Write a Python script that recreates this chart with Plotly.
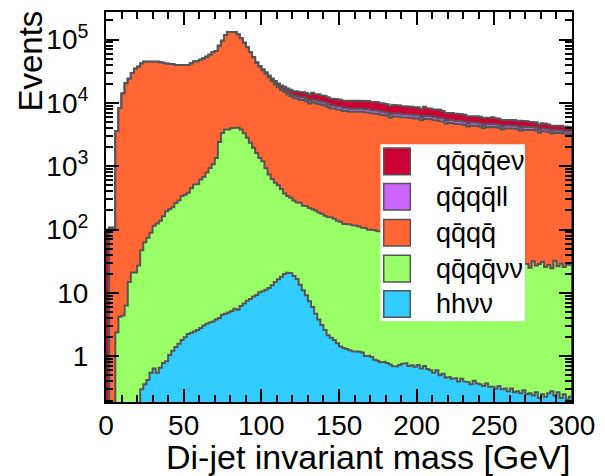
import numpy as np
import plotly.graph_objects as go

# ---------------- data (events per 2 GeV bin, 0-300 GeV) ----------------
bin_width = 2.0
mass_edges = np.arange(0, 300 + bin_width, bin_width)  # 151 edges -> 150 bins

hhvv = [0] * 11 + [
    0.3, 0.36, 0.42, 0.55, 0.64, 0.55, 0.66, 0.78, 0.83, 1.05,
    1.22, 1.4, 1.58, 1.8, 2.0, 2.25, 2.35, 2.45, 2.6, 2.8,
    3.05, 3.25, 3.4, 3.55, 3.8, 4.0, 4.5, 4.7, 4.9, 5.2,
    5.6, 5.4, 6.2, 6.8, 7.5, 8.0, 8.8, 9.3, 10.2, 10.6,
    11.2, 12.0, 13.2, 14.8, 16.4, 18.0, 19.8, 21.0, 20.5, 18.5,
    16.5, 13.5, 11.0, 9.2, 7.4, 6.0, 4.7, 3.8, 3.1, 2.6,
    2.15, 1.95, 1.8, 1.6, 1.42, 1.35, 1.3, 1.24, 1.2, 1.17,
    1.18, 1.15, 1.0, 1.02, 0.97, 0.88, 0.85, 0.8, 0.82, 0.78,
    0.74, 0.7, 0.69, 0.73, 0.76, 0.78, 0.7, 0.72, 0.68, 0.73,
    0.64, 0.7, 0.63, 0.6, 0.55, 0.6, 0.5, 0.53, 0.46, 0.47,
    0.44, 0.45, 0.4, 0.44, 0.4, 0.39, 0.36, 0.41, 0.37, 0.36,
    0.34, 0.37, 0.33, 0.33, 0.31, 0.34, 0.3, 0.31, 0.28, 0.31,
    0.27, 0.28, 0.26, 0.29, 0.25, 0.26, 0.24, 0.27, 0.22, 0.25,
    0.23, 0.26, 0.28, 0.24, 0.27, 0.22, 0.25, 0.21, 0.23,
]

qqqqvv = [0] * 3 + [
    2.4, 4.2, 4.4, 6.3, 14.8, 21, 21, 27,
    46.7, 62.6, 73.6, 88.5, 114, 124, 137, 161, 194, 208,
    223, 262, 286, 337, 353, 378, 445, 511, 522, 614,
    673, 791, 930, 1066, 1346, 2400, 3350, 3795, 3795, 3975,
    4064, 4065, 3794, 3303, 2812, 2332, 1941, 1611, 1340, 1189,
    922, 729, 618, 535, 485, 419, 352, 318, 296, 270,
    253, 250, 229, 225, 212, 203, 195, 182, 175, 163,
    156, 153, 146, 136, 131, 122, 119, 119, 116, 114,
    111, 106, 104, 99, 97, 97, 94, 92, 90, 88,
    84, 82, 80, 78, 77, 73, 71, 70, 68, 67,
    64, 62, 61, 59, 58, 55, 54.5, 53.5, 51.5, 50.5,
    48.6, 47.5, 46.6, 45.6, 44.6, 42.6, 41.6, 40.6, 39.6, 38.6,
    36.7, 35.6, 35.2, 34.4, 33.6, 32.7, 31.7, 31.3, 30.7, 29.7,
    29.7, 29.2, 29.2, 28.7, 28.3, 24.7, 31.4, 26.7, 28.4, 30.7,
    25.5, 27.2, 24.2, 31.8, 26.0, 28.6, 25.5, 27.8, 27.3,
]

qqqq = [
    0, 107, 107, 3550, 8300, 14100, 20400, 24000, 29500, 34700,
    37200, 41700, 44600, 45600, 45600, 45600, 44600, 43500, 42500, 41500,
    40500, 40500, 39500, 39500, 39500, 39400, 39400, 41300, 44200, 45200,
    47300, 49400, 52900, 56600, 62000, 64800, 77200, 92200, 113700, 128000,
    130900, 127700, 116100, 100900, 85800, 73100, 60800, 50600, 41200, 35700,
    31600, 28000, 24700, 21500, 19200, 17100, 15600, 14600, 13400, 12500,
    11700, 11400, 10900, 10900, 10400, 9600, 10000, 9710, 9450, 9160,
    8900, 8430, 8020, 8000, 7750, 7570, 7330, 7310, 7130, 7100,
    7200, 7200, 7160, 7010, 6980, 6770, 6740, 6590, 6440, 6310,
    6180, 5750, 6070, 5940, 5960, 5840, 5860, 5740, 5750, 5620,
    5640, 5250, 5540, 5550, 5450, 5330, 5230, 5120, 5020, 4650,
    4820, 4720, 4630, 4530, 4540, 4450, 4200, 4370, 4280, 4290,
    4200, 3950, 4120, 4130, 4050, 4080, 4010, 3780, 3950, 3960,
    3880, 3890, 3820, 3600, 3750, 3760, 3690, 3690, 3630, 3350,
    3560, 3500, 3430, 3250, 3360, 3310, 3310, 3250, 3190, 3210,
]

qqqqll = [0] * 48 + [
    420, 480, 530, 560, 660, 720, 780, 870, 950, 990,
    1000, 1060, 1070, 1085, 1125, 1115, 1110, 1105, 1125, 1130,
    1100, 1065, 1035, 980, 930, 930, 900, 900, 870, 870,
    845, 845, 855, 855, 850, 830, 830, 800, 800, 780,
    765, 750, 730, 715, 720, 705, 705, 690, 695, 680,
    680, 665, 665, 650, 655, 655, 645, 630, 615, 605,
    590, 580, 570, 555, 545, 535, 535, 525, 525, 515,
    505, 505, 495, 495, 485, 485, 475, 480, 470, 475,
    455, 455, 445, 445, 425, 425, 415, 405, 400, 400,
    380, 370, 370, 355, 345, 350, 340, 335, 335, 330,
    325, 325,
]

qqqqev = [100] + [0] * 47 + [
    500, 610, 770, 890, 1030, 1340, 1560, 1760, 1900, 2080,
    2140, 2230, 2310, 2400, 2490, 2610, 2640, 2690, 3100, 2780,
    3000, 2800, 2800, 2710, 2660, 2690, 2670, 2650, 2620, 2650,
    2650, 2680, 2770, 2780, 2830, 2790, 2830, 2760, 2800, 2760,
    2700, 2620, 2540, 2470, 2450, 2390, 2370, 2300, 2280, 2210,
    2200, 2160, 2140, 2070, 2400, 2050, 1970, 1920, 1860, 2050,
    1750, 1700, 1650, 1600, 1550, 1510, 1490, 1450, 1430, 1390,
    1350, 1340, 1300, 1280, 1250, 1240, 1380, 1160, 1120, 1110,
    1060, 1050, 1020, 1010, 980, 1100, 940, 930, 900, 890,
    860, 830, 820, 800, 770, 760, 730, 700, 690, 660,
    620, 610,
]

series_names = ["hh\u03bd\u03bd", "qq\u0304qq\u0304\u03bd\u03bd", "qq\u0304qq\u0304",
                "qq\u0304qq\u0304ll", "qq\u0304qq\u0304e\u03bd"]
series_colors = ["#33CCFF", "#99FF66", "#FF6633", "#CC66FF", "#CC0033"]
stack = [hhvv, qqqqvv, qqqq, qqqqll, qqqqev]
for s in stack:
    assert len(s) == 150, len(s)

# ---------------- figure ----------------
FONT = "Liberation Sans, Arial, Helvetica, sans-serif"
OUTLINE = "#555555"
floor = 1e-3

cum = np.cumsum(np.array(stack, dtype=float), axis=0)
xs_step = np.repeat(mass_edges, 2)[1:-1]

fig = go.Figure()
for k in range(len(stack) - 1, -1, -1):
    ys_step = np.repeat(np.maximum(cum[k], floor), 2)
    xs = np.concatenate([xs_step, [mass_edges[-1], mass_edges[0]]])
    ys = np.concatenate([ys_step, [floor, floor]])
    fig.add_trace(go.Scatter(
        x=xs, y=ys, mode="lines", fill="toself",
        fillcolor=series_colors[k],
        line=dict(color=OUTLINE, width=2),
        name=series_names[k], showlegend=False, hoverinfo="skip",
    ))

minor_log = [m * 10.0 ** d for d in range(-1, 6) for m in range(2, 10)]

fig.update_layout(
    width=605, height=476,
    margin=dict(l=106, r=31, t=10, b=74),
    paper_bgcolor="white", plot_bgcolor="white",
    font=dict(family=FONT, color="black"),
    showlegend=False,
    xaxis=dict(
        range=[0, 300], showgrid=False, zeroline=False,
        showline=True, linecolor="black", linewidth=2, mirror="allticks",
        ticks="inside", ticklen=13, tickwidth=1.5, tickcolor="black",
        tickmode="linear", tick0=0, dtick=50,
        minor=dict(ticks="inside", ticklen=7, tickwidth=1.5, tickcolor="black",
                   tickmode="linear", tick0=0, dtick=10),
        tickfont=dict(size=28, family=FONT, color="black"),
        ticklabelstandoff=-3,
    ),
    yaxis=dict(
        type="log", range=[-0.7226, 5.435], showgrid=False, zeroline=False,
        showline=True, linecolor="black", linewidth=2, mirror="allticks",
        ticks="inside", ticklen=13, tickwidth=1.5, tickcolor="black",
        tickmode="array",
        tickvals=[1, 10, 100, 1e3, 1e4, 1e5],
        ticktext=["1", "10", "10<sup>2</sup>", "10<sup>3</sup>",
                  "10<sup>4</sup>", "10<sup>5</sup>"],
        minor=dict(ticks="inside", ticklen=7, tickwidth=1.5, tickcolor="black",
                   tickmode="array", tickvals=minor_log),
        tickfont=dict(size=28, family=FONT, color="black"),
        ticklabelstandoff=10,
    ),
)

# axis titles (ROOT style: right/top aligned)
fig.add_annotation(text="Di-jet invariant mass [GeV]", xref="paper", yref="paper",
                   x=1, y=0, xanchor="right", yanchor="middle", yshift=-55,
                   showarrow=False, font=dict(size=34, family=FONT, color="black"))
fig.add_annotation(text="Events", xref="paper", yref="paper",
                   x=-0.161, y=1.01, xanchor="center", yanchor="top", textangle=-90,
                   showarrow=False, font=dict(size=33, family=FONT, color="black"))

# legend box (drawn manually to match the ROOT legend)
fig.add_shape(type="rect", xref="paper", yref="paper", layer="above",
              x0=0.589, x1=0.899, y0=0.207, y1=0.661,
              fillcolor="white", line=dict(width=0))
row_y = [0.617, 0.526, 0.434, 0.342, 0.251]
legend_order = [4, 3, 2, 1, 0]
for ry, k in zip(row_y, legend_order):
    fig.add_shape(type="rect", xref="paper", yref="paper", layer="above",
                  x0=0.596, x1=0.653, y0=ry - 0.034, y1=ry + 0.034,
                  fillcolor=series_colors[k], line=dict(color=OUTLINE, width=1.5))
    fig.add_annotation(text=series_names[k], xref="paper", yref="paper",
                       x=0.703, y=ry, xanchor="left", yanchor="middle",
                       showarrow=False, font=dict(size=27, family=FONT, color="black"))

fig.write_html("out.html")
